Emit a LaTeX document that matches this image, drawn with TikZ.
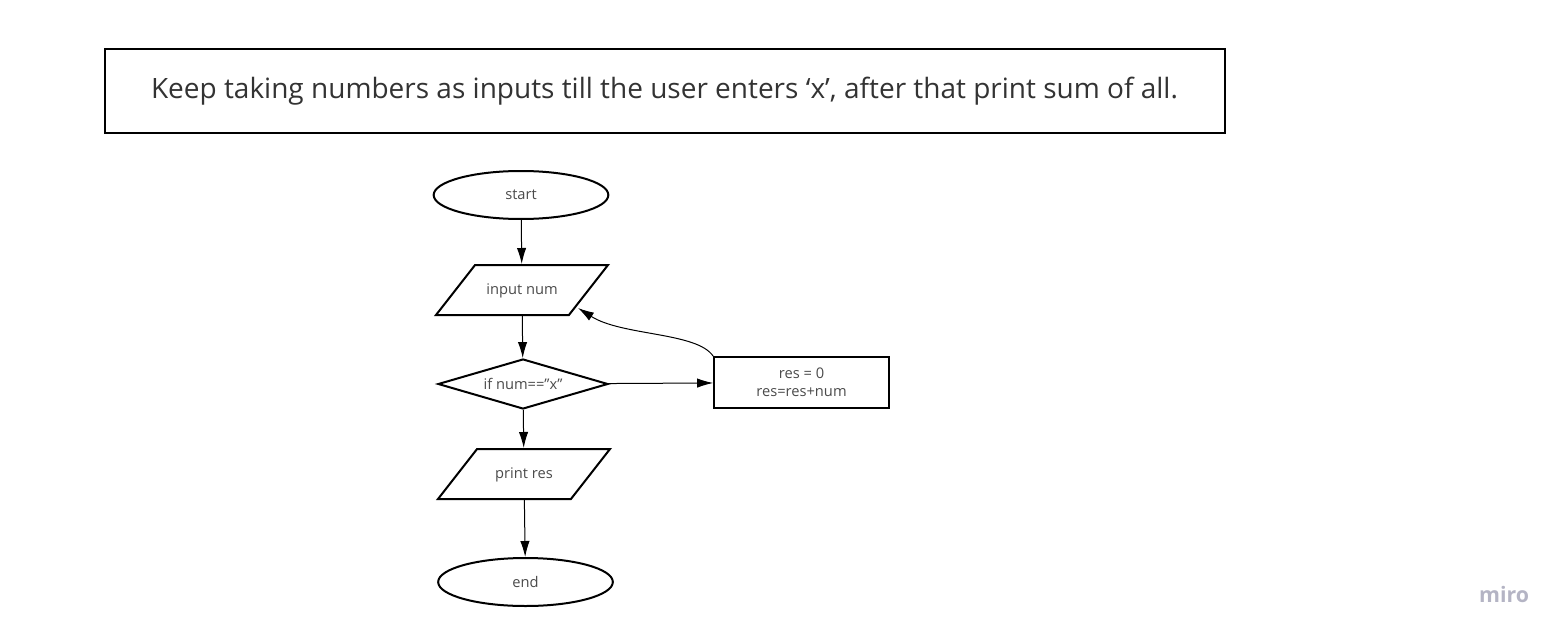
\documentclass[tikz,border=0pt]{standalone}
\usepackage{fontspec}
\setmainfont{Open Sans}
\usetikzlibrary{shapes.geometric,arrows.meta}
\definecolor{txtgray}{HTML}{4A4A4A}
\definecolor{mirogray}{HTML}{B4B4C4}

\begin{document}
\begin{tikzpicture}[x=0.75pt,y=-0.75pt]
	\tikzset{every node/.style={font=\fontsize{11pt}{13.5pt}\selectfont,text=txtgray,align=center}}
	\tikzset{term/.style={ellipse,draw,line width=1.5pt,minimum width=131pt,minimum height=36pt,inner sep=0pt}}
	\tikzset{io/.style={trapezium,trapezium left angle=52,trapezium right angle=128,draw,line width=1.5pt,minimum width=129pt,text height=8pt,text depth=2pt,inner ysep=13.75pt,inner xsep=0pt,trapezium stretches body=true}}
	\tikzset{decide/.style={diamond,draw,line width=1.5pt,minimum width=127.5pt,minimum height=37.5pt,inner sep=0pt,aspect=3.4}}
	\tikzset{proc/.style={rectangle,draw,line width=1.5pt,minimum width=131pt,minimum height=38pt,inner sep=0pt}}
	\tikzset{flow/.style={-{Latex[length=12pt,width=7pt]},line width=0.75pt}}
	\useasboundingbox (0,0) rectangle (1565,638);
	% task
	\node[draw,line width=1.5pt,minimum width=840pt,minimum height=63pt,text=black!80,font=\fontsize{21pt}{25pt}\selectfont] (task) at (664.5,91) {Keep taking numbers as inputs till the user enters ‘x’, after that print sum of all.};
	% flow chart
	\node[term] (start) at (521,195) {start};
	\node[io] (in) at (522,290) {input num};
	\node[decide] (if) at (523,384) {if num==\char34 x\char34};
	\node[proc] (res) at (801.5,382.5) {res = 0\\res=res+num};
	\node[io] (out) at (524,474) {print res};
	\node[term] (end) at (525.5,582) {end};
	\coordinate (back) at (578,308);
	\draw[flow] (start) -- (in);
	\draw[flow] (in) -- (if);
	\draw[flow] (if) -- (res);
	\draw[flow] (res.north west) .. controls (697,332) and (622,336) .. (back);
	\draw[flow] (if) -- (out);
	\draw[flow] (out) -- (end);
	\node[text=mirogray,font=\fontsize{16pt}{18pt}\selectfont\bfseries] (miro) at (1504,594) {miro};
\end{tikzpicture}
\end{document}
